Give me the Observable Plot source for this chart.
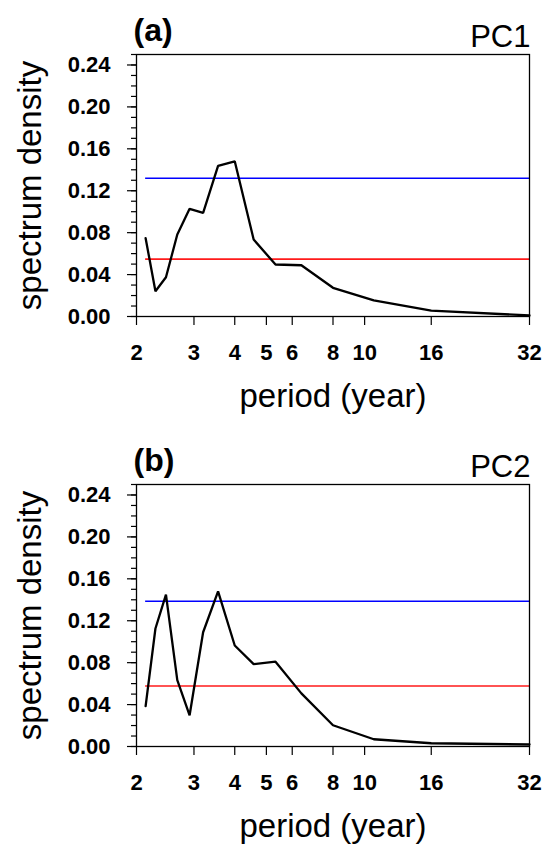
<!DOCTYPE html>
<html>
<head>
<meta charset="utf-8">
<script src="https://cdn.jsdelivr.net/npm/d3@7"></script>
<script src="https://cdn.jsdelivr.net/npm/@observablehq/plot@0.6"></script>
<style>
  html, body { margin: 0; padding: 0; background: #fff; }
  #chart svg { display: block; }
</style>
</head>
<body>
<div id="chart"></div>
<script>
// Periods (years) of the spectral estimates
const periods = [32, 16, 10.667, 8, 6.4, 5.333, 4.571, 4, 3.556, 3.2, 2.909, 2.667, 2.462, 2.286, 2.133];
// Spectrum density, PC1 and PC2
const pc1 = [0.0010, 0.0057, 0.0153, 0.0274, 0.0489, 0.0496, 0.0734, 0.1481, 0.1437, 0.0989, 0.1027, 0.0782, 0.0375, 0.0241, 0.0747];
const pc2 = [0.0019, 0.0031, 0.0069, 0.0203, 0.0507, 0.0809, 0.0786, 0.0964, 0.1480, 0.1090, 0.0298, 0.0634, 0.1449, 0.1126, 0.0386];
// Significance levels (red: lower, blue: upper)
const redLevels = [0.0547, 0.0577];
const blueLevels = [0.1319, 0.1386];
// Labels
const panelLetters = ["(a)", "(b)"];
const panelNames = ["PC1", "PC2"];
const xTicks = [2, 3, 4, 5, 6, 8, 10, 16, 32];
const yMajorTicks = [0, 0.04, 0.08, 0.12, 0.16, 0.20, 0.24];
const yMinorTicks = [0,0.01,0.02,0.03,0.04,0.05,0.06,0.07,0.08,0.09,0.10,0.11,0.12,0.13,0.14,0.15,0.16,0.17,0.18,0.19,0.20,0.21,0.22,0.23,0.24,0.25];
const xLabel = "period (year)";
const yLabel = "spectrum density";

const series = [pc1, pc2];
const font = "'Liberation Sans', Arial, Helvetica, sans-serif";

series.forEach((vals, i) => {
  const data = periods.map((p, j) => ({period: p, value: vals[j]}));
  const pMin = d3.min(periods), pMax = d3.max(periods);
  const chart = Plot.plot({
    width: 545,
    height: 430,
    marginLeft: 136,
    marginRight: 16,
    marginTop: 54,
    marginBottom: 114,
    style: {fontFamily: font, background: "#fff", color: "#000"},
    x: {type: "log", domain: [2, 32]},
    y: {domain: [0, 0.25]},
    marks: [
      Plot.axisY({ticks: yMinorTicks, tickSize: 5, text: null, label: null, stroke: "#000", strokeWidth: 1.2}),
      Plot.axisY({ticks: yMajorTicks, tickSize: 9, tickPadding: 17, tickFormat: d3.format(".2f"),
                  fontSize: 22, fontWeight: "bold", label: null, stroke: "#000", strokeWidth: 1.2}),
      Plot.axisX({ticks: xTicks, tickSize: 9, tickPadding: 19, tickFormat: d => String(d),
                  fontSize: 22, fontWeight: "bold", label: null, stroke: "#000", strokeWidth: 1.2}),
      Plot.ruleY([redLevels[i]], {x1: pMin, x2: pMax, stroke: "#ff1a1a", strokeWidth: 1.6}),
      Plot.ruleY([blueLevels[i]], {x1: pMin, x2: pMax, stroke: "#0000ff", strokeWidth: 1.6}),
      Plot.line(data, {x: "period", y: "value", stroke: "#000", strokeWidth: 2.3, strokeLinejoin: "miter"}),
      Plot.frame({stroke: "#000", strokeWidth: 1.3}),
      Plot.text([panelLetters[i]], {frameAnchor: "top-left", textAnchor: "start", lineAnchor: "middle",
                  dx: -3, dy: -24, fontSize: 32, fontWeight: "bold", fill: "#000"}),
      Plot.text([panelNames[i]], {frameAnchor: "top-right", textAnchor: "end", lineAnchor: "middle",
                  dx: 1, dy: -17, fontSize: 31, fill: "#000"}),
      Plot.text([xLabel], {frameAnchor: "bottom", textAnchor: "middle", lineAnchor: "middle",
                  dy: 80, fontSize: 33, fill: "#000"}),
      Plot.text([yLabel], {frameAnchor: "left", textAnchor: "middle", lineAnchor: "middle",
                  rotate: -90, dx: -106, fontSize: 33, fill: "#000"})
    ]
  });
  document.getElementById("chart").appendChild(chart);
});
</script>
</body>
</html>
